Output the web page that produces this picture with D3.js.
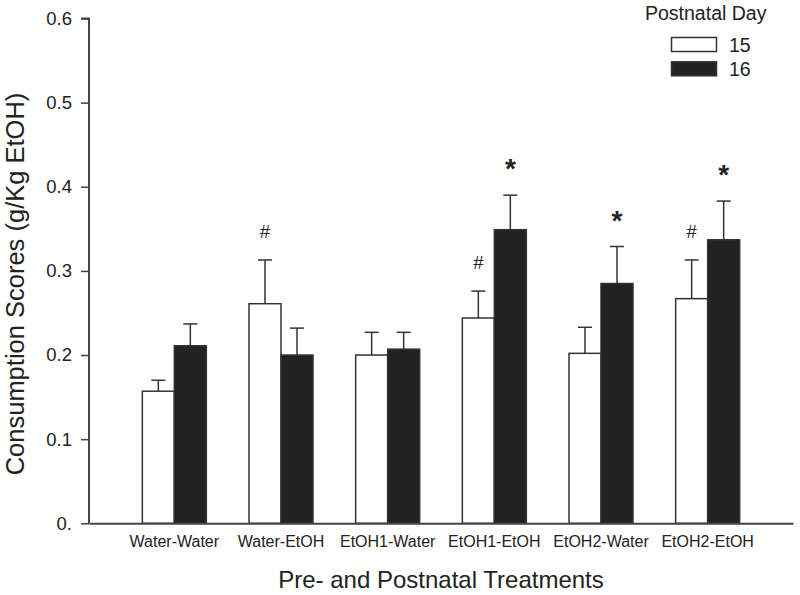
<!DOCTYPE html>
<html>
<head>
<meta charset="utf-8">
<script src="https://cdn.jsdelivr.net/npm/d3@7"></script>
<style>
  html, body { margin: 0; padding: 0; background: #fff; }
  svg { display: block; font-family: "Liberation Sans", Arial, sans-serif; }
</style>
</head>
<body>
<svg id="chart" width="800" height="595"></svg>
<script>
// ---- data ----
const categories = ["Water-Water", "Water-EtOH", "EtOH1-Water", "EtOH1-EtOH", "EtOH2-Water", "EtOH2-EtOH"];
const seriesNames = ["15", "16"];
const day15 = [0.157, 0.261, 0.200, 0.244, 0.202, 0.267];
const day15Err = [0.013, 0.052, 0.027, 0.032, 0.031, 0.046];
const day16 = [0.211, 0.200, 0.207, 0.349, 0.285, 0.337];
const day16Err = [0.026, 0.032, 0.020, 0.041, 0.044, 0.046];
const hashMarks = [false, true, false, true, false, true];   // "#" over day 15
const starMarks = [false, false, false, true, true, true];   // "*" over day 16
const yTicks = [0, 0.1, 0.2, 0.3, 0.4, 0.5, 0.6];

// ---- layout ----
const W = 800, H = 595;
const margin = { top: 18.5, right: 7, bottom: 71.7, left: 89 };
const svg = d3.select("#chart");
const g = svg.append("g");

const x0 = d3.scaleBand()
  .domain(categories)
  .range([margin.left, W - margin.right])
  .paddingInner(0.4)
  .paddingOuter(0.5);
const x1 = d3.scaleBand().domain(seriesNames).range([0, x0.bandwidth()]);
const y = d3.scaleLinear().domain([0, 0.6]).range([H - margin.bottom, margin.top]);

const ink = "#333";
const fills = { "15": "#ffffff", "16": "#222222" };

const rows = [];
categories.forEach((c, i) => {
  rows.push({ cat: c, s: "15", v: day15[i], e: day15Err[i], mark: hashMarks[i] ? "#" : null });
  rows.push({ cat: c, s: "16", v: day16[i], e: day16Err[i], mark: starMarks[i] ? "*" : null });
});

// bars
g.selectAll("rect.bar").data(rows).join("rect")
  .attr("class", "bar")
  .attr("x", d => x0(d.cat) + x1(d.s))
  .attr("y", d => y(d.v))
  .attr("width", x1.bandwidth())
  .attr("height", d => y(0) - y(d.v))
  .attr("fill", d => fills[d.s])
  .attr("stroke", ink)
  .attr("stroke-width", 1.5);

// error bars (upper only)
const cx = d => x0(d.cat) + x1(d.s) + x1.bandwidth() / 2;
g.selectAll("line.err").data(rows).join("line")
  .attr("class", "err")
  .attr("x1", cx).attr("x2", cx)
  .attr("y1", d => y(d.v)).attr("y2", d => y(d.v + d.e))
  .attr("stroke", ink).attr("stroke-width", 1.5);
g.selectAll("line.cap").data(rows).join("line")
  .attr("class", "cap")
  .attr("x1", d => cx(d) - 7).attr("x2", d => cx(d) + 7)
  .attr("y1", d => y(d.v + d.e)).attr("y2", d => y(d.v + d.e))
  .attr("stroke", ink).attr("stroke-width", 1.5);

// significance marks
g.selectAll("text.mark").data(rows.filter(d => d.mark)).join("text")
  .attr("class", "mark")
  .attr("x", cx)
  .attr("y", d => y(d.v + d.e) - (d.mark === "*" ? 17 : 22))
  .attr("text-anchor", "middle")
  .attr("font-size", d => d.mark === "*" ? 28 : 18.5)
  .attr("font-weight", d => d.mark === "*" ? "bold" : "normal")
  .attr("fill", "#222")
  .text(d => d.mark);

// y axis
const yAxis = d3.axisLeft(y).tickValues(yTicks).tickSize(8).tickPadding(9)
  .tickFormat(d => d === 0 ? "0." : d3.format(".1f")(d));
const ya = svg.append("g").attr("transform", `translate(${margin.left},0)`).call(yAxis);
ya.select(".domain").attr("stroke", "#444").attr("stroke-width", 2).attr("d", `M-8,${y(0.6)}H0V${y(0)}`);
ya.selectAll(".tick line").attr("stroke", "#444").attr("stroke-width", 1.5);
ya.selectAll(".tick text").attr("font-size", 18.5).attr("fill", "#222")
  .attr("font-family", "Liberation Sans, Arial, sans-serif");

// x axis
const xAxis = d3.axisBottom(x0).tickSize(0).tickPadding(12);
const xa = svg.append("g").attr("transform", `translate(0,${y(0)})`).call(xAxis);
xa.select(".domain").attr("stroke", "#444").attr("stroke-width", 2);
xa.selectAll(".tick text").attr("font-size", 16).attr("fill", "#222")
  .attr("font-family", "Liberation Sans, Arial, sans-serif");

// axis titles
svg.append("text")
  .attr("x", (margin.left + W - margin.right) / 2)
  .attr("y", 588)
  .attr("text-anchor", "middle")
  .attr("font-size", 24).attr("fill", "#222")
  .text("Pre- and Postnatal Treatments");
svg.append("text")
  .attr("transform", `translate(24,${284}) rotate(-90)`)
  .attr("text-anchor", "middle")
  .attr("font-size", 25.5).attr("fill", "#222")
  .text("Consumption Scores (g/Kg EtOH)");

// legend
const lg = svg.append("g");
lg.append("text").attr("x", 645).attr("y", 20).attr("font-size", 19.5).attr("fill", "#222").text("Postnatal Day");
seriesNames.forEach((s, i) => {
  lg.append("rect").attr("x", 671.5).attr("y", 37.5 + i * 24.3).attr("width", 45).attr("height", 14)
    .attr("fill", fills[s]).attr("stroke", ink).attr("stroke-width", 1.5);
  lg.append("text").attr("x", 729).attr("y", 51.5 + i * 24.3).attr("font-size", 19.5).attr("fill", "#222").text(s);
});
</script>
</body>
</html>
